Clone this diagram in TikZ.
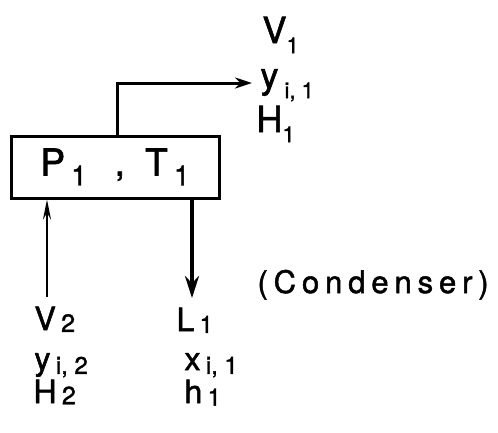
\documentclass[tikz,border=0pt]{standalone}
\usepackage{fontspec}
\setmainfont{TeX Gyre Heros}[FakeBold=1.6]
\usetikzlibrary{arrows.meta}
\newcommand{\idx}[3][-0.28em]{\raisebox{#1}{\fontsize{#2}{#2}\selectfont #3}}

\begin{document}
\begin{tikzpicture}[
    x=1pt, y=-1pt,
    >={Stealth[length=17pt,width=11pt]},
    line width=3pt,
    unit/.style={
        draw,
        line width=3pt,
        minimum width=208pt,
        minimum height=62pt,
        inner sep=0pt,
        font=\fontsize{37}{40}\selectfont
    },
    toplbl/.style={anchor=base west, inner sep=0pt, font=\fontsize{36}{40}\selectfont},
    botlbl/.style={anchor=base west, inner sep=0pt, font=\fontsize{32}{36}\selectfont},
    note/.style={anchor=base west, inner sep=0pt, font=\fontsize{31}{36}\selectfont\addfontfeature{LetterSpace=19}},
    feed/.style={->, line width=2pt, >={Stealth[length=20pt,width=8pt]}},
    liquid/.style={->, line width=3.5pt, >={Stealth[length=22pt,width=14pt]}}
]
\useasboundingbox (0,0) rectangle (498,432);

% Stage
\node[unit] (box) at (115,167) {P\,\idx[-0.27em]{28}{1}\hspace{0.75em},\hspace{0.55em}T\,\idx[-0.27em]{28}{1}};

% Vapour leaving
\node[toplbl] (V1) at (261,43) {V\idx{22}{1}};
\node[toplbl] (y1) at (259,88) {y\,\idx{22}{i, 1}};
\node[toplbl] (H1) at (255,132) {H\idx{22}{1}};

% Vapour entering
\node[botlbl] (V2) at (33,330) {V\,\idx[-0.06em]{25}{2}};
\node[botlbl] (y2) at (33,370) {y\,\idx[-0.12em]{24}{i, 2}};
\node[botlbl] (H2) at (32,403) {H\,\idx[-0.04em]{25}{2}};

% Liquid leaving
\node[botlbl] (L1) at (175,331) {L\,\idx[-0.06em]{24}{1}};
\node[botlbl] (x1) at (183,370) {x\,\idx[-0.12em]{24}{i, 1}};
\node[botlbl] (h1) at (183,403) {h\,\idx[-0.08em]{24}{1}};

\node[note] (cond) at (256,293) {(Condenser)};

% Edges
\coordinate (vturn) at (117,83);
\coordinate (vend) at (252,83);
\coordinate (vin) at (47,297);
\coordinate (lout) at (192,298);

\draw[->] (box.north -| vturn) |- (vend);
\draw[feed] (vin) -- (box.south -| vin);
\draw[liquid] (box.south -| lout) -- (lout);

\end{tikzpicture}
\end{document}
